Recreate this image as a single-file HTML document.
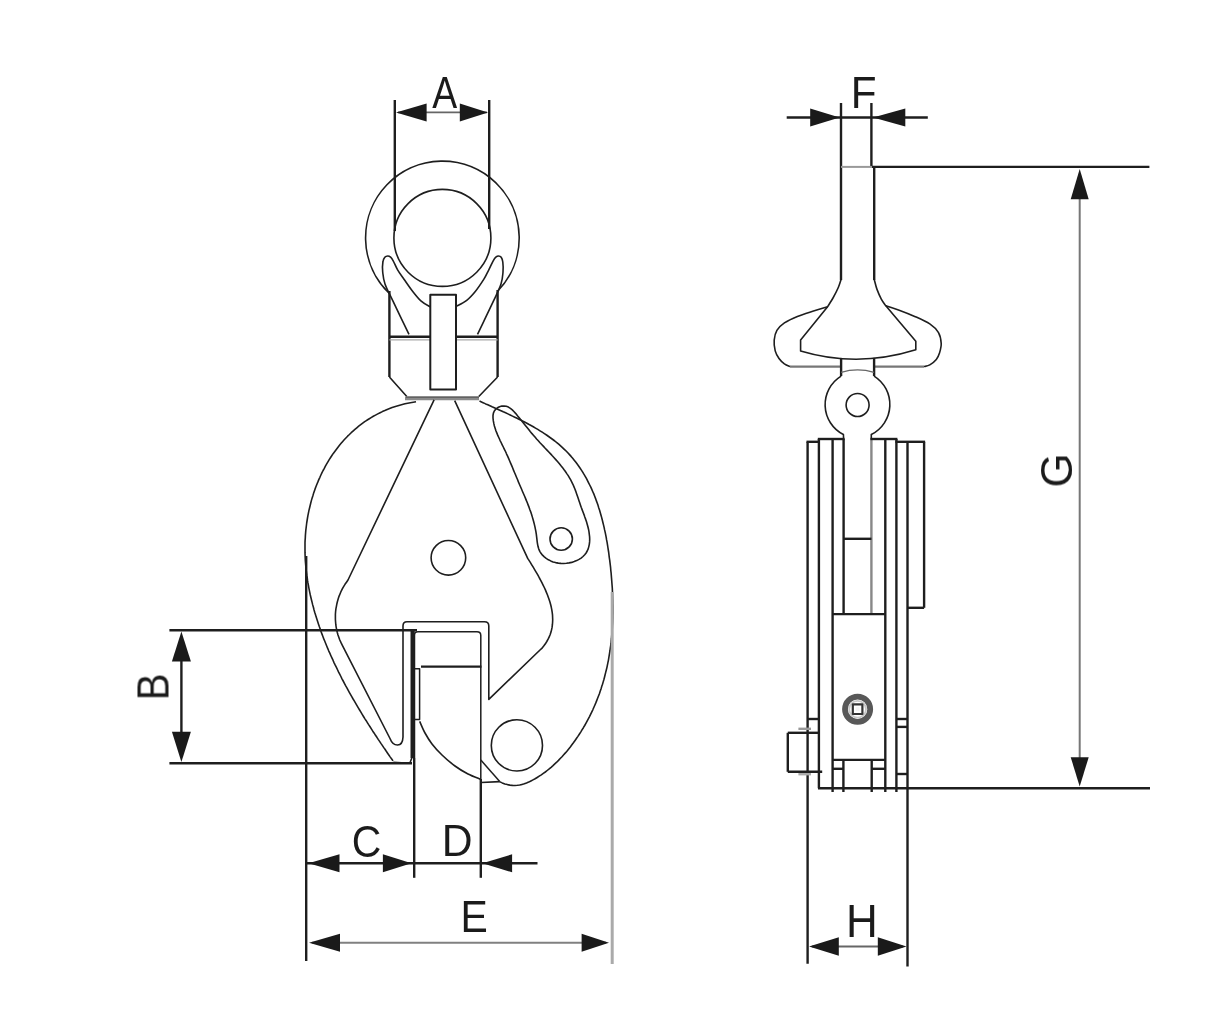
<!DOCTYPE html>
<html>
<head>
<meta charset="utf-8">
<style>
html,body{margin:0;padding:0;background:#fff;}
body{width:1211px;height:1020px;overflow:hidden;}
svg{display:block;}
</style>
</head>
<body>
<svg width="1211" height="1020" viewBox="0 0 1211 1020">
<rect width="1211" height="1020" fill="#fff"/>
<g stroke-linejoin="round" stroke-linecap="butt">
<line x1="394.8" y1="100" x2="394.8" y2="231" stroke="#1e1e1e" stroke-width="2.4"/>
<line x1="489.2" y1="100" x2="489.2" y2="229" stroke="#1e1e1e" stroke-width="2.4"/>
<line x1="398" y1="112.4" x2="487" y2="112.4" stroke="#666" stroke-width="1.6"/>
<polygon points="396,112.4 426.6,103.4 426.6,121.4" fill="#1a1a1a"/>
<polygon points="488,112.4 459.8,121.4 459.8,103.4" fill="#1a1a1a"/>
<path d="M389.4 293.5 A76.8 76.8 0 1 1 497.6 291.3" stroke="#1e1e1e" stroke-width="1.6" fill="none" />
<circle cx="442.4" cy="237.9" r="48.5" stroke="#1e1e1e" stroke-width="1.6" fill="none"/>
<path d="M409.0 334.4 C406.3 328.9 397.0 309.6 393.0 301.2 C389.0 292.8 386.7 288.9 385.0 284.0 C383.3 279.1 383.1 275.7 382.7 272.0 C382.3 268.3 382.5 264.4 382.9 262.0 C383.2 259.6 384.0 258.3 384.8 257.3 C385.6 256.3 386.8 256.0 387.8 256.0 C388.8 256.0 389.7 256.4 390.6 257.2 C391.5 258.0 392.0 258.7 393.2 260.8 C394.4 262.9 395.8 266.7 397.6 269.8 C399.4 272.9 401.6 275.8 404.0 279.2 C406.4 282.6 408.9 286.5 411.8 290.2 C414.7 293.9 418.1 298.4 421.2 301.2 C424.3 304.0 428.8 305.9 430.3 306.9" stroke="#1e1e1e" stroke-width="1.6" fill="none" />
<path d="M477.5 334.4 C480.1 328.9 489.5 309.6 493.4 301.2 C497.3 292.8 499.4 288.9 501.0 284.0 C502.6 279.1 502.7 275.7 503.0 272.0 C503.3 268.3 503.1 264.4 502.8 262.0 C502.5 259.6 501.9 258.3 501.2 257.3 C500.5 256.3 499.5 256.0 498.6 256.0 C497.7 256.0 496.7 256.4 495.8 257.2 C494.9 258.0 494.4 258.7 493.2 260.8 C492.0 262.9 490.4 266.7 488.8 269.8 C487.2 272.9 486.1 275.6 483.9 279.2 C481.6 282.8 478.2 288.0 475.3 291.5 C472.4 295.0 469.9 297.9 466.7 300.4 C463.5 302.9 457.8 305.5 456.0 306.5" stroke="#1e1e1e" stroke-width="1.6" fill="none" />
<line x1="389.4" y1="291" x2="389.4" y2="377" stroke="#1e1e1e" stroke-width="2.4"/>
<line x1="497.6" y1="290" x2="497.6" y2="377" stroke="#1e1e1e" stroke-width="2.4"/>
<line x1="389.4" y1="336.8" x2="430.3" y2="336.8" stroke="#1e1e1e" stroke-width="2.4"/>
<line x1="456" y1="336.8" x2="497.6" y2="336.8" stroke="#1e1e1e" stroke-width="2.4"/>
<line x1="389.4" y1="339.9" x2="430.3" y2="339.9" stroke="#aaa" stroke-width="1.2"/>
<line x1="456" y1="339.9" x2="497.6" y2="339.9" stroke="#aaa" stroke-width="1.2"/>
<path d="M389.4 377 L406.8 396.5 M497.6 377 L478.8 396.5" stroke="#1e1e1e" stroke-width="1.6" fill="none" />
<line x1="405" y1="398.4" x2="479" y2="398.4" stroke="#8a8a8a" stroke-width="3.6"/>
<line x1="406" y1="397.2" x2="479" y2="397.2" stroke="#555" stroke-width="1.2"/>
<rect x="430.3" y="294.7" width="25.7" height="94.9" stroke="#1e1e1e" stroke-width="2" fill="none"/>
<path d="M416.0 401.7 L413.2 402.2 L410.4 402.7 L407.7 403.2 L405.0 403.8 L402.3 404.5 L399.7 405.2 L397.1 406.0 L394.6 406.8 L392.1 407.6 L389.6 408.6 L387.2 409.5 L384.8 410.6 L382.4 411.6 L380.1 412.7 L377.8 413.9 L375.5 415.1 L373.3 416.3 L371.1 417.6 L368.9 419.0 L366.8 420.3 L364.7 421.7 L362.7 423.2 L360.7 424.7 L358.7 426.2 L356.8 427.8 L354.9 429.4 L353.0 431.1 L351.2 432.7 L349.4 434.5 L347.6 436.2 L345.9 438.0 L344.2 439.8 L342.5 441.7 L340.9 443.6 L339.3 445.5 L337.8 447.4 L336.3 449.4 L334.8 451.4 L333.3 453.4 L331.9 455.5 L330.6 457.5 L329.2 459.6 L327.9 461.8 L326.7 463.9 L325.4 466.1 L324.3 468.3 L323.1 470.5 L322.0 472.7 L320.9 475.0 L319.9 477.3 L318.8 479.6 L317.9 481.9 L316.9 484.2 L316.0 486.5 L315.1 488.9 L314.3 491.3 L313.5 493.6 L312.8 496.0 L312.0 498.4 L311.3 500.9 L310.7 503.3 L310.1 505.7 L309.5 508.2 L308.9 510.6 L308.4 513.1 L307.9 515.6 L307.5 518.0 L307.1 520.5 L306.7 523.0 L306.4 525.5 L306.1 528.0 L305.8 530.4 L305.6 532.9 L305.4 535.4 L305.3 537.9 L305.1 540.4 L305.0 542.9 L305.0 545.4 L305.0 547.9 L305.0 550.4 L305.0 552.9 L305.1 555.3 L305.2 557.8 L305.3 560.3 L305.5 562.8 L305.7 565.3 L305.9 567.8 L306.2 570.3 L306.5 572.8 L306.8 575.2 L307.2 577.7 L307.5 580.2 L307.9 582.7 L308.4 585.2 L308.8 587.6 L309.3 590.1 L309.8 592.6 L310.3 595.0 L310.9 597.5 L311.5 600.0 L312.1 602.4 L312.7 604.9 L313.4 607.3 L314.0 609.8 L314.7 612.2 L315.5 614.7 L316.2 617.1 L317.0 619.6 L317.8 622.0 L318.6 624.4 L319.4 626.8 L320.3 629.3 L321.1 631.7 L322.0 634.1 L322.9 636.5 L323.8 638.9 L324.8 641.3 L325.8 643.7 L326.7 646.0 L327.7 648.4 L328.7 650.8 L329.8 653.2 L330.8 655.5 L331.9 657.9 L333.0 660.2 L334.0 662.6 L335.1 664.9 L336.3 667.2 L337.4 669.5 L338.5 671.9 L339.7 674.2 L340.9 676.5 L342.0 678.8 L343.2 681.0 L344.4 683.3 L345.6 685.6 L346.9 687.8 L348.1 690.1 L349.3 692.3 L350.6 694.6 L351.9 696.8 L353.1 699.0 L354.4 701.2 L355.7 703.4 L357.0 705.6 L358.3 707.8 L359.6 710.0 L360.9 712.2 L362.2 714.3 L363.5 716.5 L364.8 718.6 L366.2 720.7 L367.5 722.8 L368.8 724.9 L370.2 727.0 L371.5 729.1 L372.8 731.2 L374.2 733.2 L375.5 735.3 L376.9 737.3 L378.2 739.4 L379.6 741.4 L380.9 743.4 L382.3 745.4 L383.6 747.4 L385.0 749.3 L386.3 751.3 L387.6 753.2 L389.0 755.2 L390.3 757.1 L391.7 759.0 L393.0 760.9" stroke="#1e1e1e" stroke-width="1.6" fill="none"/>
<path d="M393.3 762.3 L409.8 763.3 L412 757.5" stroke="#1e1e1e" stroke-width="1.6" fill="none" />
<path d="M479.5 401.1 L481.5 402.0 L483.6 402.9 L485.6 403.9 L487.8 404.8 L489.9 405.8 L492.1 406.8 L494.3 407.7 L496.5 408.7 L498.7 409.7 L501.0 410.7 L503.3 411.8 L505.6 412.8 L507.9 413.9 L510.2 415.0 L512.5 416.1 L514.8 417.2 L517.1 418.3 L519.4 419.5 L521.8 420.6 L524.1 421.8 L526.4 423.0 L528.7 424.3 L531.0 425.5 L533.3 426.8 L535.5 428.1 L537.8 429.4 L540.0 430.8 L542.2 432.2 L544.4 433.6 L546.5 435.0 L548.6 436.5 L550.7 438.0 L552.8 439.5 L554.8 441.0 L556.8 442.6 L558.7 444.2 L560.6 445.9 L562.5 447.6 L564.3 449.3 L566.1 451.0 L567.8 452.8 L569.5 454.6 L571.1 456.4 L572.7 458.3 L574.2 460.2 L575.7 462.1 L577.2 464.1 L578.6 466.0 L580.0 468.0 L581.4 470.1 L582.7 472.1 L583.9 474.2 L585.2 476.3 L586.4 478.4 L587.5 480.6 L588.6 482.8 L589.7 485.0 L590.8 487.2 L591.8 489.4 L592.8 491.7 L593.8 493.9 L594.7 496.2 L595.6 498.6 L596.4 500.9 L597.3 503.2 L598.1 505.6 L598.8 508.0 L599.6 510.3 L600.3 512.7 L601.0 515.2 L601.7 517.6 L602.3 520.0 L602.9 522.5 L603.5 524.9 L604.1 527.4 L604.6 529.9 L605.2 532.4 L605.7 534.9 L606.2 537.4 L606.6 539.9 L607.1 542.4 L607.5 544.9 L607.9 547.5 L608.3 550.0 L608.7 552.5 L609.0 555.1 L609.3 557.6 L609.7 560.1 L610.0 562.7 L610.3 565.2 L610.6 567.7 L610.8 570.3 L611.1 572.8 L611.3 575.4 L611.5 577.9 L611.7 580.4 L611.9 583.0 L612.1 585.5 L612.3 588.0 L612.4 590.6 L612.5 593.1 L612.6 595.6 L612.7 598.2 L612.8 600.7 L612.8 603.2 L612.9 605.7 L612.9 608.3 L612.9 610.8 L612.9 613.3 L612.8 615.8 L612.8 618.3 L612.7 620.8 L612.6 623.3 L612.4 625.8 L612.3 628.3 L612.1 630.8 L611.9 633.3 L611.7 635.7 L611.5 638.2 L611.2 640.7 L611.0 643.2 L610.7 645.6 L610.3 648.1 L610.0 650.5 L609.6 653.0 L609.2 655.4 L608.8 657.9 L608.4 660.3 L607.9 662.7 L607.4 665.1 L606.9 667.6 L606.3 670.0 L605.7 672.4 L605.1 674.8 L604.5 677.2 L603.9 679.5 L603.2 681.9 L602.5 684.3 L601.7 686.6 L601.0 689.0 L600.2 691.3 L599.4 693.7 L598.5 696.0 L597.6 698.3 L596.7 700.6 L595.8 702.9 L594.8 705.2 L593.8 707.5 L592.8 709.8 L591.7 712.1 L590.6 714.3 L589.5 716.6 L588.3 718.8 L587.1 721.1 L585.9 723.3 L584.7 725.5 L583.4 727.7 L582.0 729.9 L580.7 732.1 L579.3 734.3 L577.9 736.4 L576.4 738.5 L574.9 740.7 L573.4 742.8 L571.9 744.8 L570.3 746.9 L568.7 748.9 L567.1 750.9 L565.4 752.9 L563.7 754.8 L562.0 756.7 L560.2 758.5 L558.5 760.4 L556.7 762.2 L554.8 763.9 L553.0 765.6 L551.1 767.3 L549.2 768.9 L547.2 770.5 L545.3 772.0 L543.3 773.4 L541.3 774.8 L539.2 776.2 L537.2 777.5 L535.1 778.8 L533.0 779.9 L530.9 781.0 L528.7 782.1 L526.5 783.0 L524.3 783.8 L522.0 784.4 L519.7 785.0 L517.4 785.3 L515.0 785.5 L512.5 785.4 L510.0 785.1 L507.5 784.6 L504.9 783.9 L502.2 782.9 L499.5 781.6" stroke="#1e1e1e" stroke-width="1.6" fill="none"/>
<path d="M499.7 781.6 L481 782.5" stroke="#1e1e1e" stroke-width="1.6" fill="none" />
<path d="M434.1 399.8 L348 580 L346.5 582.2 L345.0 584.3 L343.6 586.6 L342.3 588.9 L341.1 591.3 L340.1 593.7 L339.1 596.1 L338.3 598.6 L337.5 601.2 L336.9 603.7 L336.4 606.3 L335.9 608.9 L335.6 611.5 L335.4 614.2 L335.4 616.8 L335.4 619.4 L335.6 622.1 L335.8 624.7 L336.2 627.3 L336.7 629.9 L337.3 632.5 L338.0 635.0 L338.9 637.5 L339.8 640.0 L340.9 642.4 L342.1 644.8 L390 738.5 C393 746.5 402.5 748.5 403 737  L403 626 Q403 621.8 407 621.8 L484.5 621.8 Q488.8 621.8 488.8 626 L488.8 699.4 L540 650 L541.8 648.4 L543.7 646.1 L545.4 643.8 L546.8 641.5 L548.1 639.2 L549.2 636.8 L550.2 634.5 L551.0 632.1 L551.6 629.6 L552.1 627.2 L552.4 624.7 L552.6 622.3 L552.7 619.8 L552.6 617.3 L552.5 614.8 L552.2 612.3 L551.8 609.8 L551.3 607.3 L550.7 604.8 L550.0 602.3 L549.2 599.8 L548.3 597.3 L547.4 594.8 L546.4 592.4 L545.4 589.9 L544.3 587.5 L543.1 585.1 L541.9 582.7 L540.7 580.3 L539.4 578.0 L538.2 575.7 L536.9 573.4 L535.5 571.1 L534.2 568.9 L532.9 566.7 L531.6 564.6 L530.3 562.4 L529.0 560.4 L527.7 558.4 L454.7 400.6" stroke="#1e1e1e" stroke-width="1.6" fill="none" />
<path d="M494.3 411.0 L495.7 409.2 L497.5 407.8 L499.5 406.7 L501.8 406.1 L504.1 406.0 L506.3 406.3 L508.4 407.1 L510.4 408.4 L512.3 409.9 L514.1 411.7 L515.8 413.6 L517.5 415.7 L519.2 417.7 L520.8 419.8 L522.4 421.8 L524.0 423.7 L525.6 425.7 L527.1 427.6 L528.7 429.6 L530.2 431.5 L531.8 433.4 L533.4 435.2 L535.0 437.1 L536.6 439.0 L538.3 440.8 L540.0 442.7 L541.7 444.5 L543.5 446.4 L545.2 448.3 L547.0 450.1 L548.8 452.0 L550.6 453.9 L552.3 455.8 L554.1 457.7 L555.8 459.6 L557.5 461.5 L559.2 463.5 L560.8 465.5 L562.4 467.4 L563.9 469.5 L565.4 471.5 L566.8 473.6 L568.2 475.6 L569.5 477.8 L570.7 479.9 L571.8 482.1 L572.9 484.3 L573.9 486.6 L574.8 488.8 L575.7 491.1 L576.5 493.4 L577.3 495.8 L578.1 498.1 L578.9 500.5 L579.7 502.8 L580.5 505.2 L581.3 507.5 L582.2 509.9 L583.1 512.2 L584.0 514.6 L584.8 517.0 L585.7 519.4 L586.5 521.8 L587.2 524.2 L587.9 526.7 L588.5 529.2 L589.0 531.8 L589.3 534.3 L589.6 536.9 L589.7 539.4 L589.6 541.9 L589.3 544.3 L588.8 546.6 L588.2 548.9 L587.2 551.0 L586.1 553.0 L584.7 554.8 L583.0 556.5 L581.1 558.1 L579.0 559.4 L576.7 560.6 L574.2 561.6 L571.7 562.4 L569.1 562.9 L566.4 563.3 L563.7 563.5 L560.9 563.4 L558.3 563.1 L555.6 562.6 L553.1 561.9 L550.7 560.9 L548.4 559.8 L546.2 558.4 L544.3 556.9 L542.5 555.2 L541.0 553.3 L539.8 551.3 L538.8 549.1 L538.1 546.8 L537.6 544.3 L537.2 541.8 L536.9 539.2 L536.6 536.7 L536.3 534.1 L535.9 531.6 L535.4 529.1 L534.9 526.6 L534.3 524.1 L533.7 521.7 L533.0 519.3 L532.3 516.9 L531.6 514.5 L530.8 512.1 L529.9 509.7 L529.1 507.4 L528.2 505.1 L527.3 502.7 L526.3 500.4 L525.4 498.1 L524.4 495.8 L523.4 493.5 L522.4 491.2 L521.4 488.8 L520.4 486.5 L519.4 484.2 L518.4 481.9 L517.5 479.5 L516.5 477.2 L515.5 474.8 L514.5 472.5 L513.5 470.1 L512.6 467.8 L511.6 465.4 L510.6 463.1 L509.6 460.7 L508.6 458.4 L507.6 456.1 L506.5 453.8 L505.5 451.5 L504.4 449.3 L503.3 447.0 L502.2 444.8 L501.1 442.5 L500.0 440.3 L499.0 438.0 L497.9 435.7 L497.0 433.4 L496.0 431.0 L495.2 428.5 L494.4 426.0 L493.8 423.4 L493.3 420.7 L493.0 418.0 L493.0 415.5 L493.4 413.1 L494.3 411.0 Z" stroke="#1e1e1e" stroke-width="1.6" fill="none"/>
<circle cx="561.2" cy="539" r="11.2" stroke="#1e1e1e" stroke-width="1.6" fill="none"/>
<circle cx="448.4" cy="557.8" r="17.3" stroke="#1e1e1e" stroke-width="1.6" fill="none"/>
<circle cx="516.9" cy="745.4" r="25.6" stroke="#1e1e1e" stroke-width="1.6" fill="none"/>
<path d="M414.5 758 L414.5 635 Q414.5 631.8 418 631.8 L477 631.8 Q480.8 631.8 480.8 635.5 L480.8 781" stroke="#1e1e1e" stroke-width="1.5" fill="none" />
<line x1="421" y1="666.6" x2="481.5" y2="666.6" stroke="#1e1e1e" stroke-width="2.4"/>
<path d="M413 668.8 L419.6 668.8 L419.6 719.4 L413 719.4" stroke="#1e1e1e" stroke-width="1.5" fill="none" />
<path d="M419.7 721.4 C420.6 723.3 422.9 729.2 425.0 733.0 C427.1 736.8 429.2 740.3 432.0 744.0 C434.8 747.7 438.2 751.3 442.0 755.0 C445.8 758.7 450.7 762.8 455.0 766.0 C459.3 769.2 463.7 771.8 468.0 774.0 C472.3 776.2 478.7 778.5 480.8 779.4" stroke="#1e1e1e" stroke-width="1.6" fill="none" />
<path d="M480.8 760 L499.7 781.6" stroke="#1e1e1e" stroke-width="1.5" fill="none" />
<line x1="412.6" y1="631" x2="412.6" y2="758" stroke="#1e1e1e" stroke-width="4.2"/>
<line x1="414.2" y1="758" x2="414.2" y2="877.8" stroke="#1e1e1e" stroke-width="2.4"/>
<line x1="480.8" y1="779" x2="480.8" y2="877.8" stroke="#1e1e1e" stroke-width="2.4"/>
<line x1="306.2" y1="556" x2="306.2" y2="961" stroke="#1e1e1e" stroke-width="2.4"/>
<line x1="612.2" y1="592" x2="612.2" y2="964" stroke="#aaa" stroke-width="3"/>
<line x1="169.4" y1="630.3" x2="417" y2="630.3" stroke="#1e1e1e" stroke-width="2.4"/>
<line x1="169.4" y1="763.3" x2="412" y2="763.3" stroke="#1e1e1e" stroke-width="2.4"/>
<line x1="181.4" y1="640" x2="181.4" y2="755" stroke="#1e1e1e" stroke-width="2.4"/>
<polygon points="181.4,631.5 190.9,661.5 171.9,661.5" fill="#1a1a1a"/>
<polygon points="181.4,762 171.9,731.8 190.9,731.8" fill="#1a1a1a"/>
<line x1="306" y1="863.3" x2="537.5" y2="863.3" stroke="#1e1e1e" stroke-width="2.4"/>
<polygon points="308.5,863.3 339.5,854.3 339.5,872.3" fill="#1a1a1a"/>
<polygon points="411.5,863.3 382.9,872.3 382.9,854.3" fill="#1a1a1a"/>
<polygon points="482.5,863.3 512.1,854.3 512.1,872.3" fill="#1a1a1a"/>
<line x1="312" y1="942.8" x2="606" y2="942.8" stroke="#808080" stroke-width="2"/>
<polygon points="309,942.8 340.0,933.8 340.0,951.8" fill="#1a1a1a"/>
<polygon points="609,942.8 581.6,951.8 581.6,933.8" fill="#1a1a1a"/>
<line x1="786.7" y1="117.5" x2="927.8" y2="117.5" stroke="#1e1e1e" stroke-width="2.4"/>
<polygon points="839.6,117.5 810.2,126.5 810.2,108.5" fill="#1a1a1a"/>
<polygon points="873,117.5 905.3,108.5 905.3,126.5" fill="#1a1a1a"/>
<line x1="841" y1="103" x2="841" y2="280" stroke="#1e1e1e" stroke-width="2.4"/>
<line x1="871.4" y1="103" x2="871.4" y2="166.9" stroke="#1e1e1e" stroke-width="2.4"/>
<line x1="874.2" y1="166.9" x2="874.2" y2="280" stroke="#1e1e1e" stroke-width="2.4"/>
<line x1="841" y1="166.9" x2="872" y2="166.9" stroke="#999" stroke-width="2"/>
<line x1="872" y1="166.9" x2="1149.4" y2="166.9" stroke="#1e1e1e" stroke-width="2.4"/>
<path d="M841.0 279.7 C840.6 281.0 839.7 284.2 838.4 287.3 C837.1 290.4 834.8 294.8 833.0 298.0 C831.2 301.2 828.5 305.2 827.6 306.7 L800.6 340.1 L800.6 350.9 Q857.5 368 915.8 349.8 L915.8 341.2 L885.6 305.6  C884.9 304.5 882.7 301.8 881.3 299.1 C879.9 296.4 878.2 292.6 877.0 289.4 C875.8 286.2 874.8 281.3 874.3 279.7" stroke="#1e1e1e" stroke-width="1.6" fill="none" />
<path d="M827.6 306.7 C825.2 307.4 818.5 309.4 813.5 311.0 C808.5 312.6 802.2 314.4 797.4 316.4 C792.5 318.4 787.8 320.6 784.4 322.9 C781.0 325.2 778.6 327.5 776.9 330.4 C775.2 333.3 774.5 336.7 774.2 340.1 C773.9 343.5 774.4 347.8 775.2 350.9 C776.0 354.0 777.5 356.3 779.0 358.5 C780.5 360.7 782.6 362.5 784.4 363.9 C786.2 365.2 789.1 366.2 790.0 366.6" stroke="#1e1e1e" stroke-width="1.6" fill="none" />
<path d="M885.6 305.6 C887.8 306.3 893.6 308.1 898.5 309.9 C903.4 311.7 909.5 314.1 914.7 316.4 C919.9 318.7 925.8 321.2 929.8 323.9 C933.8 326.6 936.6 329.4 938.5 332.6 C940.4 335.9 941.0 340.0 941.2 343.4 C941.4 346.8 940.3 350.4 939.5 353.1 C938.7 355.8 937.9 357.5 936.3 359.5 C934.7 361.5 931.8 363.7 929.8 364.9 C927.8 366.1 925.0 366.3 924.0 366.6" stroke="#1e1e1e" stroke-width="1.6" fill="none" />
<line x1="790" y1="366.6" x2="841" y2="366.6" stroke="#777" stroke-width="2.2"/>
<line x1="874.2" y1="366.6" x2="924" y2="366.6" stroke="#777" stroke-width="2.2"/>
<line x1="841.1" y1="357.9" x2="841.1" y2="376.1" stroke="#1e1e1e" stroke-width="2.4"/>
<line x1="874.1" y1="357.9" x2="874.1" y2="376.1" stroke="#1e1e1e" stroke-width="2.4"/>
<path d="M841.1 372.3 Q857.5 367.5 874.1 372.3" stroke="#666" stroke-width="1.4" fill="none" />
<path d="M841.1 376.1 A33.5 33.5 0 0 0 843.4 434.5 L843.6 439" stroke="#1e1e1e" stroke-width="1.6" fill="none" />
<path d="M874.1 376.1 A33.5 33.5 0 0 1 871.3 434.5 L871.3 439" stroke="#1e1e1e" stroke-width="1.6" fill="none" />
<circle cx="857.6" cy="405" r="11.5" stroke="#1e1e1e" stroke-width="1.6" fill="none"/>
<line x1="807.6" y1="441.8" x2="807.6" y2="963.7" stroke="#1e1e1e" stroke-width="2.4"/>
<line x1="818.9" y1="439" x2="818.9" y2="788.3" stroke="#1e1e1e" stroke-width="2.4"/>
<line x1="832.6" y1="439" x2="832.6" y2="792" stroke="#1e1e1e" stroke-width="2.4"/>
<line x1="843.6" y1="439" x2="843.6" y2="614.1" stroke="#1e1e1e" stroke-width="2.4"/>
<line x1="843.4" y1="760.6" x2="843.4" y2="792" stroke="#1e1e1e" stroke-width="2.4"/>
<line x1="871.4" y1="439" x2="871.4" y2="614.1" stroke="#888" stroke-width="2.4"/>
<line x1="871.7" y1="760.6" x2="871.7" y2="792" stroke="#1e1e1e" stroke-width="2.4"/>
<line x1="885.3" y1="439" x2="885.3" y2="792" stroke="#1e1e1e" stroke-width="2.4"/>
<line x1="896.4" y1="439" x2="896.4" y2="792" stroke="#1e1e1e" stroke-width="2.4"/>
<line x1="907.5" y1="441.8" x2="907.5" y2="966.4" stroke="#1e1e1e" stroke-width="2.4"/>
<line x1="924.1" y1="441.8" x2="924.1" y2="607.8" stroke="#1e1e1e" stroke-width="2.4"/>
<line x1="806.5" y1="441.8" x2="819.9" y2="441.8" stroke="#1e1e1e" stroke-width="2.4"/>
<line x1="817.8" y1="439" x2="844.6" y2="439" stroke="#1e1e1e" stroke-width="2.4"/>
<line x1="870.4" y1="439" x2="897.4" y2="439" stroke="#1e1e1e" stroke-width="2.4"/>
<line x1="895.4" y1="441.8" x2="925.1" y2="441.8" stroke="#1e1e1e" stroke-width="2.4"/>
<line x1="843.6" y1="538.8" x2="871.4" y2="538.8" stroke="#1e1e1e" stroke-width="2.4"/>
<line x1="832.6" y1="614.1" x2="885.3" y2="614.1" stroke="#1e1e1e" stroke-width="2.4"/>
<line x1="907.5" y1="607.8" x2="924.1" y2="607.8" stroke="#1e1e1e" stroke-width="2.4"/>
<line x1="807.6" y1="719" x2="818.9" y2="719" stroke="#1e1e1e" stroke-width="2.4"/>
<line x1="787.8" y1="732.8" x2="818.9" y2="732.8" stroke="#1e1e1e" stroke-width="2.4"/>
<line x1="787.8" y1="771.8" x2="822.2" y2="771.8" stroke="#1e1e1e" stroke-width="2.4"/>
<line x1="832.6" y1="759.9" x2="885.3" y2="759.9" stroke="#1e1e1e" stroke-width="2.4"/>
<line x1="832.6" y1="768.8" x2="843.4" y2="768.8" stroke="#1e1e1e" stroke-width="2.4"/>
<line x1="871.7" y1="768.8" x2="885.3" y2="768.8" stroke="#1e1e1e" stroke-width="2.4"/>
<line x1="896.4" y1="719" x2="907.5" y2="719" stroke="#1e1e1e" stroke-width="2.4"/>
<line x1="896.4" y1="726.9" x2="907.5" y2="726.9" stroke="#1e1e1e" stroke-width="2.4"/>
<line x1="896.4" y1="774" x2="907.5" y2="774" stroke="#1e1e1e" stroke-width="2.4"/>
<line x1="818" y1="788.3" x2="1150" y2="788.3" stroke="#1e1e1e" stroke-width="2.4"/>
<line x1="787.8" y1="732.8" x2="787.8" y2="771.8" stroke="#1e1e1e" stroke-width="2.4"/>
<line x1="798.4" y1="728.8" x2="811" y2="728.8" stroke="#999" stroke-width="2.4"/>
<line x1="798.4" y1="774.2" x2="811" y2="774.2" stroke="#aaa" stroke-width="2.4"/>
<circle cx="857.6" cy="709.2" r="12.6" fill="none" stroke="#585858" stroke-width="5.8"/>
<circle cx="857.6" cy="709.2" r="8.4" fill="none" stroke="#c8c8c8" stroke-width="1.8"/>
<rect x="852.8" y="704.4" width="9.6" height="9.6" fill="none" stroke="#333" stroke-width="2.2"/>
<rect x="855.6" y="707.2" width="4" height="4" fill="#f4f4f4"/>
<line x1="1079.7" y1="190" x2="1079.7" y2="765" stroke="#777" stroke-width="2"/>
<polygon points="1079.7,169 1088.7,199.3 1070.7,199.3" fill="#1a1a1a"/>
<polygon points="1079.7,786.5 1070.7,757.2 1088.7,757.2" fill="#1a1a1a"/>
<line x1="812" y1="946.5" x2="903" y2="946.5" stroke="#666" stroke-width="2"/>
<polygon points="809,946.5 838.8,937.3 838.8,955.7" fill="#1a1a1a"/>
<polygon points="906.5,946.5 877.8,955.7 877.8,937.3" fill="#1a1a1a"/>
</g>

<g font-size="44" text-anchor="middle" fill="#1a1a1a" opacity="0.995" style="font-family:'Liberation Sans',sans-serif">
<text transform="translate(444.7,107.7) scale(0.85,1)">A</text>
<text transform="translate(366.4,857) scale(0.93,1)">C</text>
<text transform="translate(457.2,855.8) scale(0.97,1)">D</text>
<text transform="translate(474.1,932) scale(0.93,1)">E</text>
<text transform="translate(863.6,108) scale(0.96,1)">F</text>
<text transform="translate(861.9,936.6) scale(1,1.03)">H</text>
<text transform="translate(168.5,686.8) rotate(-90) scale(0.92,1)">B</text>
<text transform="translate(1072,470.5) rotate(-90)">G</text>
</g>

</svg>
</body>
</html>
